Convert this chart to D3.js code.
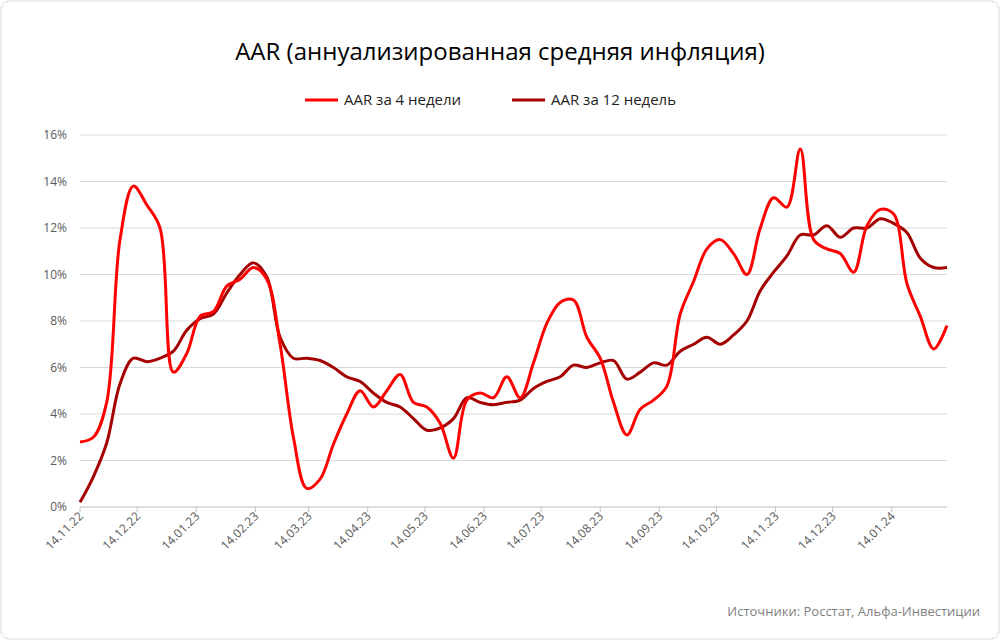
<!DOCTYPE html>
<html><head><meta charset="utf-8">
<script src="https://cdn.jsdelivr.net/npm/d3@7"></script>
<style>body{margin:0;background:#fff;font-family:"Open Sans",sans-serif}</style>
</head><body><svg id="c" width="1000" height="640"></svg>
<script>
// недельные значения AAR, % (начиная с 14.11.22)
const startDate = new Date(2022, 10, 14);
const aar4 = [2.8,3.0,4.5,11.5,13.8,13.0,12.0,5.8,6.6,8.2,8.4,9.5,9.8,10.3,9.8,7.0,3.0,0.8,1.2,2.7,4.0,5.0,4.3,5.0,5.7,4.5,4.3,3.6,2.1,4.6,4.9,4.7,5.6,4.7,6.2,7.9,8.8,8.9,7.3,6.4,4.5,3.1,4.2,4.6,5.2,8.3,9.7,11.1,11.5,10.9,10.0,12.0,13.3,12.9,15.4,11.5,11.1,10.9,10.1,12.1,12.8,12.6,9.6,8.2,6.8,7.8];
const aar12 = [0.2,1.3,2.75,5.3,6.4,6.25,6.4,6.7,7.6,8.1,8.3,9.2,10.0,10.5,9.9,7.3,6.4,6.4,6.3,6.0,5.6,5.4,4.9,4.5,4.3,3.8,3.3,3.4,3.8,4.7,4.5,4.4,4.5,4.6,5.1,5.4,5.6,6.1,6.0,6.2,6.3,5.5,5.8,6.2,6.1,6.7,7.0,7.3,7.0,7.4,8.0,9.3,10.1,10.8,11.7,11.7,12.1,11.6,12.0,12.0,12.4,12.2,11.8,10.7,10.3,10.3];
const tickLabels = ['14.11.22','14.12.22','14.01.23','14.02.23','14.03.23','14.04.23','14.05.23','14.06.23','14.07.23','14.08.23','14.09.23','14.10.23','14.11.23','14.12.23','14.01.24'];
const yTicks = [0,2,4,6,8,10,12,14,16];

const dates = aar4.map((_, i) => d3.timeWeek.offset(startDate, i));
const parse = d3.timeParse('%d.%m.%y');

const svg = d3.select('#c');
svg.append('rect').attr('x', 1).attr('y', 1).attr('width', 998).attr('height', 638)
  .attr('rx', 8).attr('fill', '#fff').attr('stroke', '#d9d9d9');

const x = d3.scaleTime().domain([startDate, dates[dates.length - 1]]).range([80, 947]);
const y = d3.scaleLinear().domain([0, 16]).range([507, 135]);

// сетка
svg.append('g').selectAll('line').data(yTicks).enter().append('line')
  .attr('x1', 80).attr('x2', 947).attr('y1', d => y(d)).attr('y2', d => y(d))
  .attr('stroke', d => d === 0 ? '#bfbfbf' : '#d9d9d9').attr('stroke-width', 1);

svg.append('g').selectAll('text').data(yTicks).enter().append('text')
  .attr('x', 67).attr('y', d => y(d) + 4).attr('text-anchor', 'end')
  .attr('font-size', 12).attr('fill', '#595959').text(d => d + '%');

// ось X
const xt = svg.append('g').selectAll('g').data(tickLabels).enter().append('g')
  .attr('transform', d => `translate(${x(parse(d))},507)`);
xt.append('line').attr('y2', 5).attr('stroke', '#bfbfbf');
xt.append('text').attr('transform', 'translate(4,10) rotate(-45)')
  .attr('text-anchor', 'end').attr('font-size', 12).attr('fill', '#595959').text(d => d);

const line = d3.line().x((d, i) => x(dates[i])).y(d => y(d)).curve(d3.curveCatmullRom.alpha(0.5));

svg.append('path').datum(aar12).attr('d', line).attr('fill', 'none')
  .attr('stroke', '#a50000').attr('stroke-width', 3);
svg.append('path').datum(aar4).attr('d', line).attr('fill', 'none')
  .attr('stroke', '#ff0000').attr('stroke-width', 3);

// заголовок и легенда
svg.append('text').attr('x', 500).attr('y', 60).attr('text-anchor', 'middle')
  .attr('font-size', 24).attr('fill', '#000').text('AAR (аннуализированная средняя инфляция)');

const legend = [{name: 'AAR за 4 недели', color: '#ff0000', x: 305}, {name: 'AAR за 12 недель', color: '#a50000', x: 512}];
const lg = svg.append('g').selectAll('g').data(legend).enter().append('g')
  .attr('transform', d => `translate(${d.x},100)`);
lg.append('line').attr('x1', 0).attr('x2', 33).attr('stroke', d => d.color).attr('stroke-width', 3);
lg.append('text').attr('x', 39).attr('y', 5).attr('font-size', 15).attr('fill', '#222').text(d => d.name);

svg.append('text').attr('x', 980).attr('y', 616).attr('text-anchor', 'end')
  .attr('font-size', 13).attr('fill', '#7f7f7f').text('Источники: Росстат, Альфа-Инвестиции');
</script></body></html>
